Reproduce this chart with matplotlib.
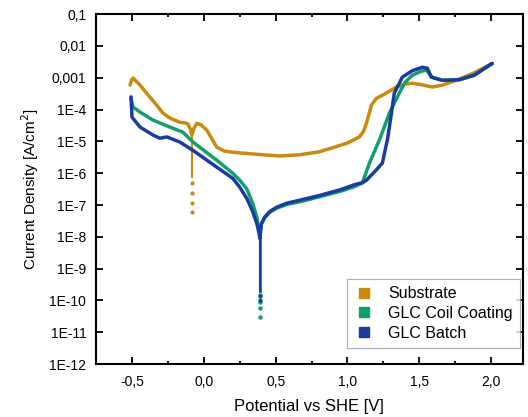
import numpy as np
import matplotlib
matplotlib.use("Agg")
import matplotlib.pyplot as plt
from matplotlib.lines import Line2D
from matplotlib.ticker import FixedLocator, FixedFormatter, MultipleLocator

# =============================================================================
# Data (potential in V vs SHE, log10 of current density in A/cm2)
# =============================================================================
sub_v = [-0.514, -0.5, -0.493, -0.45, -0.375, -0.33, -0.285, -0.23, -0.167, -0.13, -0.111,
         -0.095, -0.083, -0.07, -0.049, -0.02, 0.021, 0.06, 0.09, 0.14, 0.201, 0.3,
         0.528, 0.667, 0.8, 0.896, 1.0, 1.083, 1.11, 1.132, 1.167, 1.2, 1.243, 1.3,
         1.34, 1.40, 1.451, 1.52, 1.59, 1.66, 1.757, 1.88, 2.007]
sub_log = [-3.23, -3.05, -3.01, -3.2, -3.61, -3.85, -4.11, -4.28, -4.4, -4.42, -4.45,
           -4.6, -4.8, -4.6, -4.43, -4.48, -4.65, -4.95, -5.18, -5.3, -5.34, -5.38,
           -5.46, -5.42, -5.33, -5.2, -5.05, -4.86, -4.7, -4.43, -3.86, -3.65, -3.55, -3.4,
           -3.29, -3.2, -3.17, -3.22, -3.29, -3.23, -3.08, -2.85, -2.55]
sub_spike_v = -0.083
sub_spike_log = [-4.8, -5.2, -5.6, -5.9, -6.12]
sub_spike_dots = [-6.31, -6.63, -6.94, -7.23]

grn_v = [-0.507, -0.493, -0.444, -0.354, -0.236, -0.146, -0.076, 0.09, 0.201, 0.25,
         0.30, 0.34, 0.37, 0.385, 0.39, 0.40, 0.424, 0.46, 0.507, 0.58, 0.667, 0.806,
         0.95, 1.05, 1.104, 1.153, 1.222, 1.292, 1.361, 1.40, 1.451, 1.51, 1.549,
         1.59, 1.66, 1.778, 1.882, 2.007]
grn_log = [-3.64, -3.92, -4.08, -4.33, -4.55, -4.71, -5.02, -5.59, -6.0, -6.22,
           -6.5, -6.94, -7.4, -7.8, -8.0, -7.6, -7.4, -7.22, -7.1, -6.98, -6.9, -6.74,
           -6.57, -6.42, -6.3, -5.68, -4.96, -4.11, -3.48, -3.15, -2.92, -2.8, -2.76,
           -2.98, -3.08, -3.06, -2.92, -2.55]

blu_v = [-0.507, -0.5, -0.444, -0.354, -0.306, -0.257, -0.167, -0.076, 0.09, 0.201,
         0.25, 0.30, 0.34, 0.37, 0.385, 0.39, 0.40, 0.424, 0.46, 0.507, 0.58, 0.667,
         0.806, 0.95, 1.05, 1.104, 1.132, 1.20, 1.243, 1.28, 1.306, 1.326, 1.382, 1.45,
         1.521, 1.556, 1.583, 1.66, 1.778, 1.882, 2.007]
blu_log = [-3.6, -4.24, -4.55, -4.8, -4.9, -4.86, -5.02, -5.28, -5.81, -6.16,
           -6.44, -6.8, -7.2, -7.6, -7.9, -8.05, -7.6, -7.38, -7.2, -7.07, -6.94, -6.85,
           -6.7, -6.52, -6.36, -6.3, -6.22, -5.9, -5.68, -4.9, -4.11, -3.48, -2.98, -2.78,
           -2.67, -2.7, -2.98, -3.08, -3.06, -2.92, -2.55]

cusp_v = 0.39
cusp_line_log = [-8.0, -9.7]
grn_cusp_dots = [-9.83, -10.06, -10.24, -10.53]
blu_cusp_dots = [-9.85, -10.0]

y_ticks = [1e-12, 1e-11, 1e-10, 1e-9, 1e-8, 1e-7, 1e-6, 1e-5, 1e-4, 1e-3, 1e-2, 1e-1]
y_labels = ["1E-12", "1E-11", "1E-10", "1E-9", "1E-8", "1E-7", "1E-6", "1E-5",
            "1E-4", "0,001", "0,01", "0,1"]
x_ticks = [-0.5, 0.0, 0.5, 1.0, 1.5, 2.0]
x_labels = ["-0,5", "0,0", "0,5", "1,0", "1,5", "2,0"]

c_sub = "#c98a10"
c_grn = "#12a06a"
c_blu = "#1a3c9e"

# =============================================================================
# Plot
# =============================================================================
plt.rcParams["font.family"] = ["Liberation Sans", "DejaVu Sans"]
fig = plt.figure(figsize=(5.28, 4.17), dpi=100)
ax = fig.add_axes([0.182, 0.127, 0.808, 0.839])

def tolin(a):
    return 10 ** np.array(a)

lw = 2.5
ax.plot(sub_v, tolin(sub_log), color=c_sub, lw=lw, solid_capstyle="round")
ax.plot([sub_spike_v] * len(sub_spike_log), tolin(sub_spike_log), color=c_sub, lw=1.5)
ax.plot([sub_spike_v] * len(sub_spike_dots), tolin(sub_spike_dots), "o", color=c_sub, ms=2)

ax.plot(grn_v, tolin(grn_log), color=c_grn, lw=lw, solid_capstyle="round")
ax.plot([cusp_v] * 2, tolin(cusp_line_log), color=c_grn, lw=2.2)
ax.plot([cusp_v] * len(grn_cusp_dots), tolin(grn_cusp_dots), "o", color=c_grn, ms=2.2)

ax.plot(blu_v, tolin(blu_log), color=c_blu, lw=lw, solid_capstyle="round")
ax.plot([cusp_v] * 2, tolin(cusp_line_log), color=c_blu, lw=1.5)
ax.plot([cusp_v] * len(blu_cusp_dots), tolin(blu_cusp_dots), "o", color=c_blu, ms=2)

ax.set_yscale("log")
ax.set_ylim(1e-12, 1e-1)
ax.set_xlim(-0.75, 2.22)
ax.yaxis.set_major_locator(FixedLocator(y_ticks))
ax.yaxis.set_major_formatter(FixedFormatter(y_labels))
ax.yaxis.set_minor_locator(FixedLocator([]))
ax.xaxis.set_major_locator(FixedLocator(x_ticks))
ax.xaxis.set_major_formatter(FixedFormatter(x_labels))
ax.xaxis.set_minor_locator(MultipleLocator(0.25))

ax.tick_params(which="both", direction="in", top=True, right=True, labelsize=10, width=1.3)
ax.tick_params(which="major", length=5)
ax.tick_params(which="minor", length=2.5)
ax.tick_params(axis="y", pad=7)
ax.tick_params(axis="x", pad=8)
for s in ax.spines.values():
    s.set_linewidth(1.5)

ax.set_xlabel("Potential vs SHE [V]", fontsize=12, labelpad=7)
ax.set_ylabel("Current Density [A/cm$^2$]", fontsize=11, labelpad=6)

handles = [Line2D([], [], ls="none", marker="s", ms=6.5, color=c) for c in (c_sub, c_grn, c_blu)]
leg = ax.legend(handles, ["Substrate", "GLC Coil Coating", "GLC Batch"], loc="lower right",
                bbox_to_anchor=(0.993, 0.046), borderaxespad=0,
                fontsize=11.5, fancybox=False, edgecolor="#999999",
                handlelength=1.2, handletextpad=0.9, labelspacing=0.3, borderpad=0.45)
leg.get_frame().set_linewidth(0.8)

fig.savefig("out.png", dpi=100)
